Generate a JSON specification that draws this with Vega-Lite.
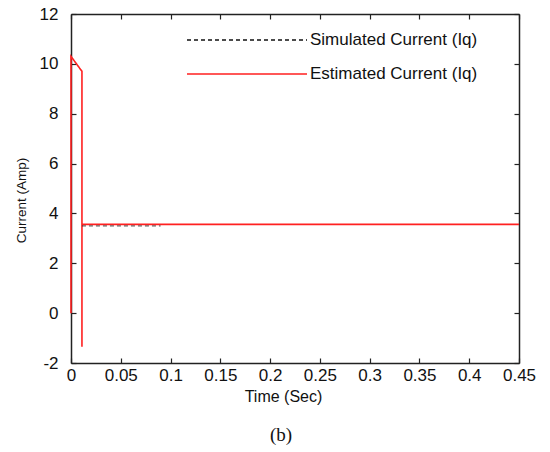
{
  "$schema": "https://vega.github.io/schema/vega-lite/v6.json",
  "width": 448,
  "height": 349,
  "autosize": "none",
  "padding": {"left": 71, "top": 14, "right": 31, "bottom": 89},
  "background": "white",
  "config": {
    "view": {"stroke": null},
    "font": "Liberation Sans",
    "axis": {"grid": false, "domainColor": "#222", "domainWidth": 1.5, "tickColor": "#222", "tickSize": -5, "tickWidth": 1.2, "labelColor": "#111", "labelFontSize": 17, "labelFont": "Liberation Sans", "titleFont": "Liberation Sans", "titleFontWeight": "normal", "titleColor": "#111"}
  },
  "title": {"text": "(b)", "orient": "bottom", "font": "Liberation Serif", "fontSize": 19, "fontWeight": "normal", "color": "#111", "offset": 22, "dx": -14},
  "data": {"values": [
    {"series": "Estimated", "i": 1, "t": 0, "current": 0},
    {"series": "Estimated", "i": 2, "t": 0, "current": 10.3},
    {"series": "Estimated", "i": 3, "t": 0.011, "current": 9.7},
    {"series": "Estimated", "i": 4, "t": 0.011, "current": -1.35},
    {"series": "Estimated", "i": 5, "t": 0.011, "current": 4.6},
    {"series": "Estimated", "i": 6, "t": 0.011, "current": 3.56},
    {"series": "Estimated", "i": 7, "t": 0.45, "current": 3.56},
    {"series": "Simulated", "i": 1, "t": 0.011, "current": 3.5},
    {"series": "Simulated", "i": 2, "t": 0.09, "current": 3.5}
  ]},
  "encoding": {
    "x": {"field": "t", "type": "quantitative", "scale": {"domain": [0, 0.45], "nice": false, "zero": false}},
    "y": {"field": "current", "type": "quantitative", "scale": {"domain": [-2, 12], "nice": false, "zero": false}},
    "order": {"field": "i", "type": "quantitative"},
    "color": {"field": "series", "type": "nominal", "scale": {"domain": ["Simulated", "Estimated"], "range": ["#111111", "#ff2020"]},
      "legend": {"orient": "none", "legendX": 115, "legendY": 10, "title": null, "symbolType": "stroke", "symbolSize": 14400, "symbolStrokeWidth": 1.5, "symbolOpacity": 1, "clipHeight": 32, "labelFontSize": 17, "labelLimit": 400, "labelFont": "Liberation Sans", "labelColor": "#111", "labelOffset": 2, "labelExpr": "datum.label == 'Simulated' ? 'Simulated Current (Iq)' : 'Estimated Current (Iq)'"}},
    "strokeDash": {"field": "series", "type": "nominal", "scale": {"domain": ["Simulated", "Estimated"], "range": [[4, 3], [1, 0]]}, "legend": null}
  },
  "layer": [
    {
      "transform": [{"filter": "datum.series == 'Estimated'"}],
      "mark": {"type": "line", "strokeWidth": 1.6},
      "encoding": {
        "x": {"field": "t", "type": "quantitative", "axis": {"title": "Time (Sec)", "titleFontSize": 16, "values": [0, 0.05, 0.1, 0.15, 0.2, 0.25, 0.3, 0.35, 0.4, 0.45], "labelExpr": "'' + datum.value", "labelPadding": 9, "titlePadding": 5, "titleX": 212, "labelFlush": false}},
        "y": {"field": "current", "type": "quantitative", "axis": {"title": "Current (Amp)", "titleFontSize": 13.5, "titleY": 186, "values": [-2, 0, 2, 4, 6, 8, 10, 12], "labelExpr": "'' + datum.value", "labelPadding": 18, "titlePadding": 11}}
      }
    },
    {
      "transform": [{"filter": "datum.series == 'Simulated'"}],
      "mark": {"type": "line", "strokeWidth": 1.6, "opacity": 0.45},
      "encoding": {
        "x": {"field": "t", "type": "quantitative", "axis": {"orient": "top", "labels": false, "title": null, "values": [0, 0.05, 0.1, 0.15, 0.2, 0.25, 0.3, 0.35, 0.4, 0.45]}},
        "y": {"field": "current", "type": "quantitative", "axis": {"orient": "right", "labels": false, "title": null, "values": [-2, 0, 2, 4, 6, 8, 10, 12]}}
      }
    }
  ],
  "resolve": {"axis": {"x": "independent", "y": "independent"}}
}
